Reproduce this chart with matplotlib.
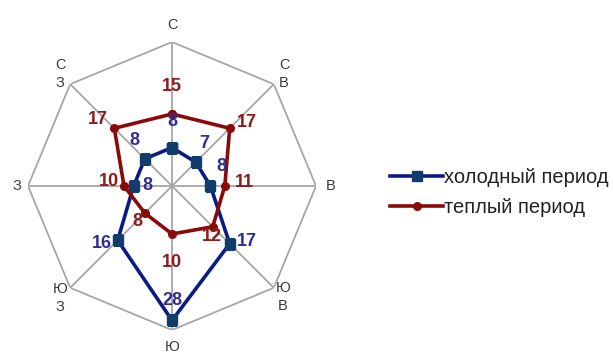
import numpy as np
import matplotlib
matplotlib.use("Agg")
import matplotlib.pyplot as plt

plt.rcParams['font.family'] = ['Liberation Sans', 'DejaVu Sans']

# directions clockwise from north
directions = ['С', 'С\nВ', 'В', 'Ю\nВ', 'Ю', 'Ю\nЗ', 'З', 'С\nЗ']
cold = [8, 7, 8, 17, 28, 16, 8, 8]
warm = [15, 17, 11, 12, 10, 8, 10, 17]
series_names = ['холодный период', 'теплый период']

rmax = 30
cold_col = '#0B1B86'
warm_col = '#8A0A0A'
cold_txt = '#2E2E96'
warm_txt = '#8B1C1C'

# label offsets in pixels (dx, dy), y up
cold_off = [(0, 26), (8, 19), (11, 19), (17, 2), (0, 20), (-16, -3), (14, 0), (-10, 18)]
warm_off = [(0, 27), (17, 6), (20, 3), (-1, -10), (0, -29), (-7, -8), (-15, 4), (-16, 9)]
lab_r = [1.12, 1.1, 1.1, 1.09, 1.12, 1.1, 1.08, 1.1]

fig = plt.figure(figsize=(6.13, 3.54), dpi=100)
ax = fig.add_axes([0.0457, 0.0678, 0.4698, 0.8136], projection='polar')
ax.set_theta_zero_location('N')
ax.set_theta_direction(-1)

ang = np.linspace(0, 2 * np.pi, len(directions), endpoint=False)
ang_c = np.append(ang, ang[0])

# octagon grid + spokes
ax.plot(ang_c, [rmax] * len(ang_c), color='#A6A6A6', lw=1.3, zorder=1)
for a in ang:
    ax.plot([a, a], [0, rmax], color='#A6A6A6', lw=1.3, zorder=1)

c = cold + cold[:1]
w = warm + warm[:1]
l1, = ax.plot(ang_c, c, color=cold_col, lw=2.6, marker='s', ms=6.5,
              mfc='#123C6A', mec='#123C6A', zorder=3, label=series_names[0])
l2, = ax.plot(ang_c, w, color=warm_col, lw=2.6, marker='o', ms=5.5,
              mfc=warm_col, mec=warm_col, zorder=3, label=series_names[1])

for a, v, o in zip(ang, cold, cold_off):
    ax.annotate(str(v), (a, v), xytext=o, textcoords='offset pixels',
                ha='center', va='center', fontsize=13, fontweight='bold',
                color=cold_txt, zorder=5)
for a, v, o in zip(ang, warm, warm_off):
    ax.annotate(str(v), (a, v), xytext=o, textcoords='offset pixels',
                ha='center', va='center', fontsize=13, fontweight='bold',
                color=warm_txt, zorder=5)

# direction labels
for a, d, k in zip(ang, directions, lab_r):
    ax.text(a, rmax * k, d, ha='center', va='center', fontsize=10.5,
            color='#3A3A3A', clip_on=False, linespacing=1.3)

ax.set_ylim(0, rmax)
ax.set_xticks([])
ax.set_yticks([])
ax.grid(False)
ax.spines['polar'].set_visible(False)
ax.patch.set_alpha(0)

fig.legend(handles=[l1, l2], loc='center left', bbox_to_anchor=(0.637, 0.455),
           frameon=False, fontsize=14.5, handlelength=2.6, handletextpad=0.05,
           labelspacing=0.55, labelcolor='#222222', borderaxespad=0,
           borderpad=0)

fig.savefig('out.png', dpi=100)
